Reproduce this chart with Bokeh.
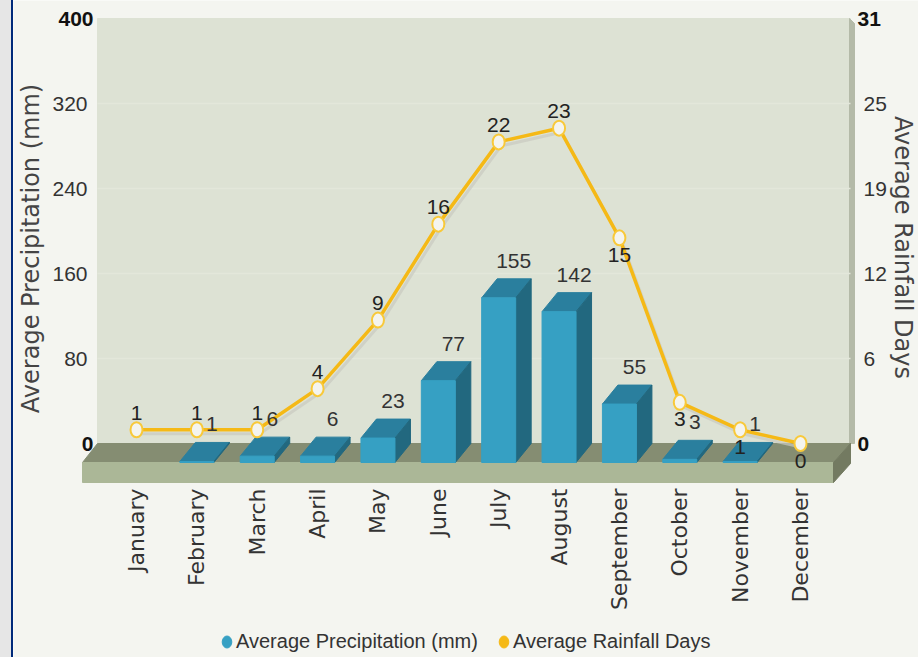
import math
from bokeh.plotting import figure
from bokeh.layouts import row
from bokeh.models import (Range1d, LinearAxis, FixedTicker, Label, Legend, LegendItem, Spacer)
from bokeh.core.properties import value
from bokeh.embed import file_html
from bokeh.resources import INLINE

months = ["January", "February", "March", "April", "May", "June", "July", "August",
          "September", "October", "November", "December"]
precipitation = [None, 1, 6, 6, 23, 77, 155, 142, 55, 3, 1, None]
rain_days = [1, 1, 1, 4, 9, 16, 22, 23, 15, 3, 1, 0]
rain_label_side = [1, 1, 1, 1, 1, 1, 1, 1, -1, -1, -1, -1]
left_ticks = [80, 160, 240, 320]
right_ticks = [6.2, 12.4, 18.6, 24.8]
right_tick_labels = ["6", "12", "19", "25"]
LEFT_MAX, RIGHT_MAX = 400, 31

NUM = "Liberation Sans"
WIDE = "DejaVu Sans"
BG = "#f4f5f0"

# page-pixel geometry of the 3D box
EDGE = 13
H = 657
F_L, F_R, F_T, F_B = EDGE, 918, 0, H
Y0, Y_TOP = 443, 18
X0, DX = 136, (800 - 136) / 11
PY = (Y0 - Y_TOP) / LEFT_MAX
def ux(px): return (px - X0) / DX
def uy(px): return (Y0 - px) / PY
DEPTH_X, DEPTH_Y = 15.5 / DX, 19 / PY
HALF_W = 17 / DX
R = RIGHT_MAX / LEFT_MAX

p = figure(frame_width=F_R - F_L, frame_height=F_B - F_T, output_backend="svg", toolbar_location=None,
           x_range=Range1d(ux(F_L), ux(F_R)), y_range=Range1d(uy(F_B), uy(F_T)),
           min_border=0,
           background_fill_color=BG, border_fill_color=BG, outline_line_color=None)
p.xgrid.visible = False
p.ygrid.visible = False
p.extra_y_ranges = {"rain": Range1d(uy(F_B) * R, uy(F_T) * R)}

# wall, floor
p.patch([ux(97), ux(850), ux(850), ux(97)], [uy(18), uy(18), uy(443), uy(443)], color="#dde2d4")
p.patch([ux(849), ux(854), ux(854), ux(849)], [uy(18), uy(23), uy(443), uy(443)], color="#b4baa8")
p.segment([ux(97)] * 4, left_ticks, [ux(850)] * 4, left_ticks, line_color="#e3e7da", line_width=1.5)
p.patch([ux(82), ux(97), ux(850), ux(833)], [uy(462), uy(443), uy(443), uy(462)], color="#858d72")
p.patch([ux(82), ux(833), ux(833), ux(82)], [uy(462), uy(462), uy(482), uy(482)], color="#abb797")
p.patch([ux(833), ux(850), ux(850), ux(833)], [uy(462), uy(443), uy(463), uy(482)], color="#737a61")

# bars
bx = [i for i, v in enumerate(precipitation) if v is not None]
bv = [v for v in precipitation if v is not None]
p.patches([[x - HALF_W, x - HALF_W + DEPTH_X, x + HALF_W + DEPTH_X, x + HALF_W] for x in bx],
          [[v - DEPTH_Y, v, v, v - DEPTH_Y] for v in bv], color="#2a7f9e")
p.patches([[x + HALF_W, x + HALF_W + DEPTH_X, x + HALF_W + DEPTH_X, x + HALF_W] for x in bx],
          [[v - DEPTH_Y, v, 0, -DEPTH_Y] for v in bv], color="#22687f")
p.vbar(x=bx, top=[v - DEPTH_Y for v in bv], bottom=-DEPTH_Y, width=2 * HALF_W, color="#36a0c3")

# rainfall line
xs = list(range(12))
p.line([x + 2.5 / DX for x in xs], [v - 4 / (PY / R) for v in rain_days], y_range_name="rain",
       line_color="#c9cbc0", line_width=3, line_alpha=0.7)
p.line(xs, rain_days, y_range_name="rain", line_color="#f5b916", line_width=3.5)
p.ellipse(xs, rain_days, width=12, height=15, width_units="screen", height_units="screen",
          y_range_name="rain", fill_color="#f4f4ee", line_color="#f8c93a", line_width=2)

# value labels
p.text(bx, bv, text=[str(v) for v in bv], x_offset=15, y_offset=-18,
       text_font=value(NUM), text_font_size="21px", text_color="#333333",
       text_align="center", text_baseline="middle")
p.text(xs, rain_days, text=[str(v) for v in rain_days], y_range_name="rain",
       y_offset=[-17 * s for s in rain_label_side],
       text_font=value(NUM), text_font_size="21px", text_color="#222222",
       text_align="center", text_baseline="middle")

# axes (tick labels are pulled back over the frame with negative standoffs)
xa = p.xaxis[0]
xa.ticker = FixedTicker(ticks=xs)
xa.major_label_overrides = dict(zip(xs, months))
xa.major_label_orientation = math.pi / 2
xa.major_label_standoff = -(F_B - 482)
xa.major_label_text_font = WIDE
xa.major_label_text_font_size = "22px"
xa.major_label_text_color = "#333333"
xa.axis_line_color = None
xa.major_tick_line_color = None
xa.minor_tick_line_color = None

ya = p.yaxis[0]
ya.ticker = FixedTicker(ticks=left_ticks)
ya.major_label_standoff = -(93 - F_L)
ya.major_label_text_font = NUM
ya.major_label_text_font_size = "21px"
ya.major_label_text_color = "#333333"
ya.axis_line_color = None
ya.major_tick_line_color = None
ya.minor_tick_line_color = None

ra = LinearAxis(y_range_name="rain", ticker=FixedTicker(ticks=right_ticks))
ra.major_label_overrides = dict(zip(right_ticks, right_tick_labels))
ra.major_label_standoff = -(F_R - 857)
ra.major_label_text_font = NUM
ra.major_label_text_font_size = "21px"
ra.major_label_text_color = "#333333"
ra.axis_line_color = None
ra.major_tick_line_color = None
ra.minor_tick_line_color = None
p.add_layout(ra, "right")

# axis titles
for txt, px_x, px_y, ang in [("Average Precipitation (mm)", 30, 248, math.pi / 2),
                             ("Average Rainfall Days", 902, 247, -math.pi / 2)]:
    p.add_layout(Label(x=ux(px_x), y=uy(px_y), text=txt, angle=ang, text_font=WIDE, text_font_size="24px",
                       text_color="#444444", text_align="center", text_baseline="middle"))

# bold end labels
for val, txt, rng, align, px_x in [(LEFT_MAX, "400", "default", "right", 93), (0, "0", "default", "right", 93),
                                   (RIGHT_MAX, "31", "rain", "left", 857), (0, "0", "rain", "left", 857)]:
    p.add_layout(Label(x=ux(px_x), y=val, text=txt, y_range_name=rng,
                       text_font=NUM, text_font_size="21px", text_font_style="bold",
                       text_color="#111111", text_align=align, text_baseline="middle"))

# legend
k1 = p.ellipse([float("nan")], [0], width=12, height=15, width_units="screen", height_units="screen",
               color="#36a0c3")
k2 = p.ellipse([float("nan")], [0], width=12, height=15, width_units="screen", height_units="screen",
               color="#f5b916")
legend = Legend(items=[LegendItem(label="Average Precipitation (mm)", renderers=[k1]),
                       LegendItem(label="Average Rainfall Days", renderers=[k2])],
                orientation="horizontal", location=(219 - F_L, 4), padding=0, margin=0,
                spacing=18, glyph_width=15, glyph_height=19, label_standoff=2,
                label_text_font=NUM, label_text_font_size="20px", label_text_color="#333333",
                background_fill_alpha=0, border_line_color=None)
p.add_layout(legend, "center")

edge1 = Spacer(width=11, height=H, styles={"background-color": "#e6e6e6"})
edge2 = Spacer(width=2, height=H, styles={"background-color": "#002a7a"})
page = row(edge1, edge2, p, spacing=0)

open("out.html", "w").write(file_html(page, INLINE))
